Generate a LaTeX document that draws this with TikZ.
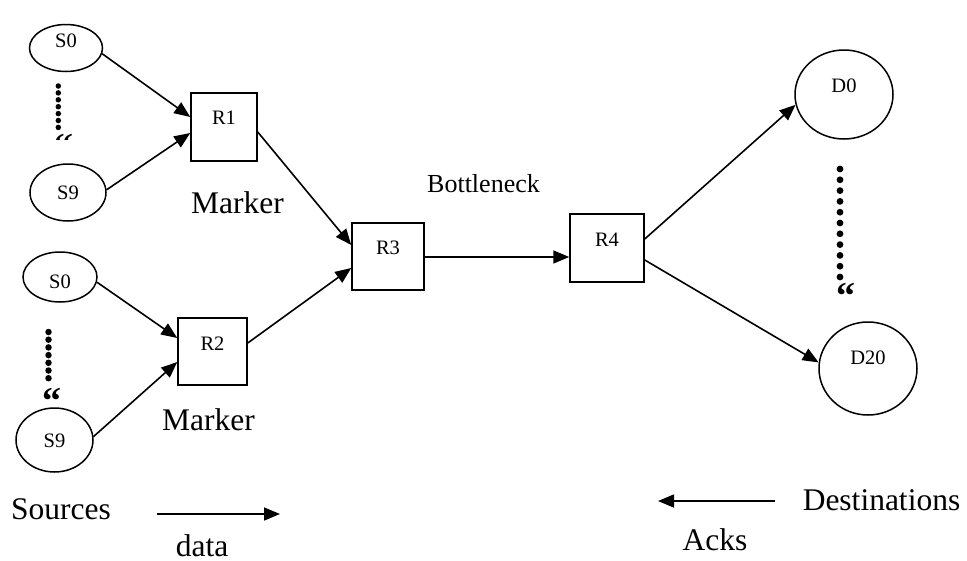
\documentclass[tikz,border=0pt]{standalone}
\usepackage{fontspec}
\setmainfont{Liberation Serif}
\usetikzlibrary{arrows.meta,calc,shapes.geometric}
\begin{document}
\begin{tikzpicture}[x=1pt,y=-1pt,
  ell/.style={draw, ellipse, line width=1.5pt, inner sep=0pt, font=\fontsize{20.5}{24}\selectfont},
  rbox/.style={draw, rectangle, line width=1.5pt, inner sep=0pt, font=\fontsize{20.5}{24}\selectfont},
  conn/.style={line width=1.6pt, -{Triangle[length=16pt,width=13pt]}},
  big/.style={font=\fontsize{31.5}{36}\selectfont, inner sep=0pt, anchor=base},
  dotm/.style={circle, fill=black, inner sep=0pt, minimum size=#1},
  quot/.style={font=\fontsize{38}{42}\selectfont\bfseries, inner sep=0pt, anchor=base west},
]
\useasboundingbox (0,0) rectangle (967,560);

% sources
\node[ell, minimum width=73pt, minimum height=47pt, text height=14pt, text depth=16pt] (s0a) at (66,48) {S0};
\node[ell, minimum width=76pt, minimum height=57pt, text height=21.5pt, text depth=8.5pt] (s9a) at (68,192.5) {S9};
\node[ell, minimum width=74pt, minimum height=50pt, text height=26pt, text depth=4pt] (s0b) at (60,277) {S0};
\node[ell, minimum width=77pt, minimum height=64pt, text height=22pt, text depth=8pt] (s9b) at (54.5,440) {S9};

% routers
\node[rbox, minimum width=66pt, minimum height=68pt, text height=12pt, text depth=18pt] (r1) at (224,127) {R1};
\node[rbox, minimum width=69pt, minimum height=67pt, text height=13.5pt, text depth=16.5pt] (r2) at (212.5,351.5) {R2};
\node[rbox, minimum width=72pt, minimum height=67pt, text height=12.5pt, text depth=17.5pt] (r3) at (388,256.5) {R3};
\node[rbox, minimum width=74pt, minimum height=68pt, text height=13pt, text depth=17pt] (r4) at (607,248) {R4};

% destinations
\node[ell, minimum width=98pt, minimum height=89pt, text height=12.5pt, text depth=17.5pt] (d0) at (844,94.5) {D0};
\node[ell, minimum width=98pt, minimum height=93pt, text height=10.5pt, text depth=19.5pt] (d20) at (868,368.5) {D20};

% connectors
\draw[conn] (s0a.-9) -- ($(r1.west)+(0,-10)$);
\draw[conn] (s9a.4) -- ($(r1.west)+(0,6)$);
\draw[conn] ($(r1.east)+(0,5)$) -- ($(r3.west)+(0,-11.5)$);
\draw[conn] (s0b.-8) -- ($(r2.west)+(0,-13.5)$);
\draw[conn] (s9b.5) -- ($(r2.west)+(0,10.5)$);
\draw[conn] ($(r2.east)+(0,-8.5)$) -- ($(r3.west)+(0,11.5)$);
\draw[conn] ($(r3.east)+(0,0.5)$) -- ($(r4.west)+(0,9)$);
\draw[conn] ($(r4.east)+(0,-9)$) -- (d0.192);
\draw[conn] ($(r4.east)+(0,12)$) -- (d20.173);

% dotted columns
\foreach \i in {0,...,6} \node[dotm=5.5pt] (ta\i) at (58.3,86+6.9*\i) {};
\begin{scope}
  \clip (0,0) rectangle (120,139.5);
  \node[quot] (tq) at (54,159.4) {“};
\end{scope}
\foreach \i in {0,...,6} \node[dotm=6.5pt] (ba\i) at (48.5,332+7.7*\i) {};
\node[quot] (bq) at (42,413.4) {“};
\foreach \i in {0,...,10} \node[dotm=6.8pt] (ra\i) at (840,169+10.8*\i) {};
\node[quot] (rq) at (836,308.4) {“};

% labels
\node[big] (mk1) at (237.5,213) {Marker};
\node[big] (mk2) at (208.5,430) {Marker};
\node[font=\fontsize{26}{30}\selectfont, inner sep=0pt, anchor=base] (bn) at (483.5,192.3) {Bottleneck};
\node[big] (src) at (61,519.3) {Sources};
\node[big] (dat) at (202,556.5) {data};
\node[big] (dst) at (881.5,510) {Destinations};
\node[big] (ack) at (715,550) {Acks};

\coordinate (da) at (157,514);
\coordinate (db) at (280,514);
\draw[conn] (da) -- (db);
\coordinate (aa) at (775,501);
\coordinate (ab) at (658,501);
\draw[conn] (aa) -- (ab);
\end{tikzpicture}
\end{document}
